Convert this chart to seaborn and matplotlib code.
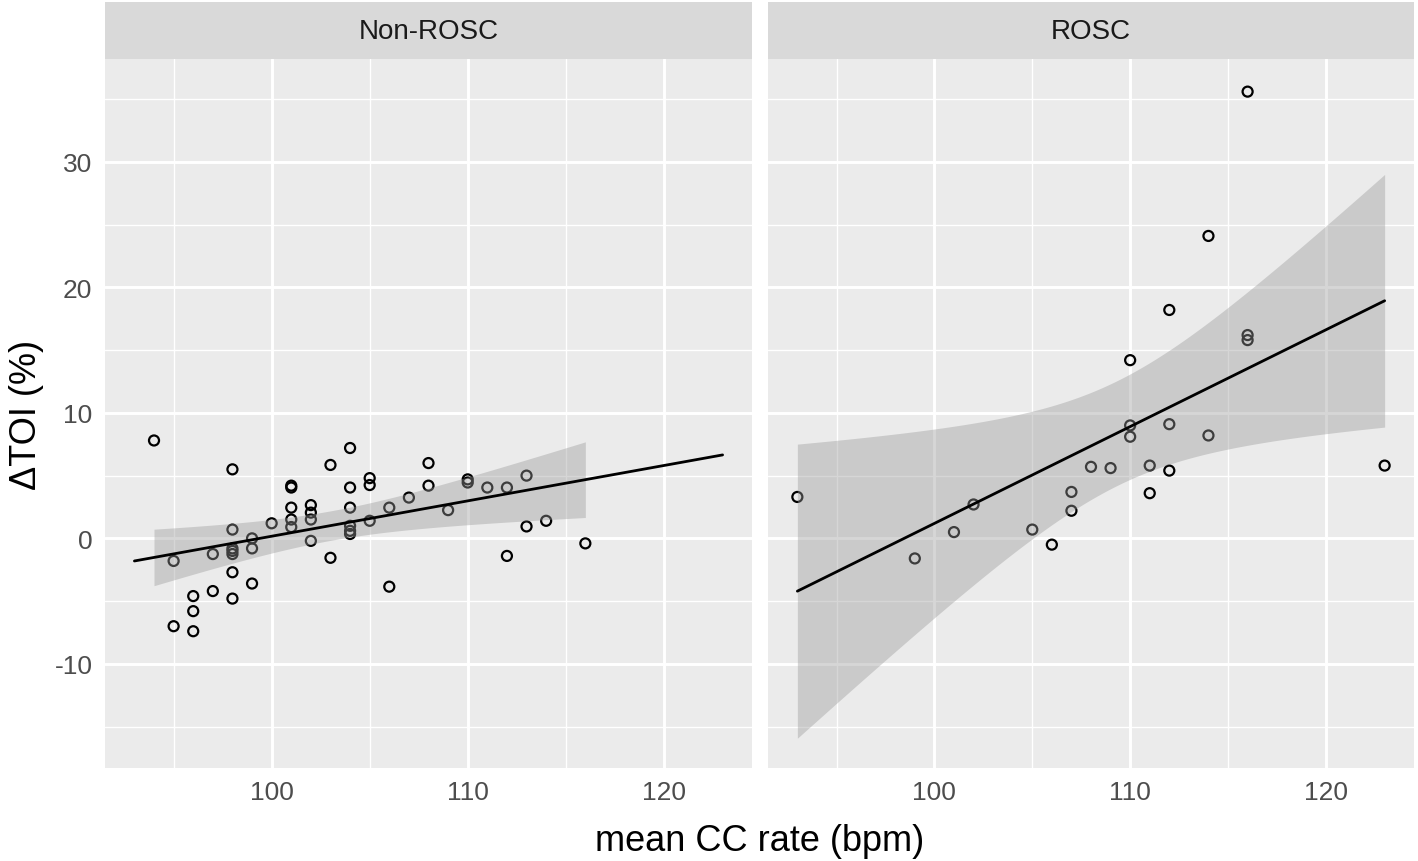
import numpy as np
import pandas as pd
import matplotlib
matplotlib.use("Agg")
import matplotlib.pyplot as plt
import seaborn as sns
from matplotlib.patches import Rectangle
from matplotlib.ticker import MultipleLocator, FixedLocator

# ---------------- data ----------------
groups = ["Non-ROSC", "ROSC"]

nonrosc_rate = [94, 95, 95, 96, 96, 96, 97, 97,
                98, 98, 98, 98, 98, 98, 98,
                99, 99, 99, 100,
                101, 101, 101, 101, 101,
                102, 102, 102, 102, 103, 103,
                104, 104, 104, 104, 104, 104,
                105, 105, 105, 106, 106, 107, 108, 108, 109,
                110, 110, 111, 112, 112, 113, 113, 114, 116]
nonrosc_dtoi = [7.8, -1.8, -7.0, -4.6, -5.8, -7.4, -1.25, -4.2,
                5.5, 0.7, -0.8, -1.0, -1.25, -2.7, -4.8,
                0.0, -0.8, -3.6, 1.2,
                4.2, 4.05, 2.45, 1.5, 0.9,
                2.65, 2.05, 1.5, -0.2, 5.85, -1.55,
                7.2, 4.05, 2.45, 1.0, 0.6, 0.35,
                4.8, 4.25, 1.4, 2.45, -3.85, 3.25, 6.0, 4.2, 2.25,
                4.7, 4.45, 4.05, 4.05, -1.4, 5.0, 0.95, 1.4, -0.4]

rosc_rate = [93, 99, 101, 102, 105, 106, 107, 107, 108, 109,
             110, 110, 110, 111, 111, 112, 112, 112,
             114, 114, 116, 116, 116, 123]
rosc_dtoi = [3.3, -1.6, 0.5, 2.7, 0.7, -0.5, 3.7, 2.2, 5.7, 5.6,
             14.2, 9.0, 8.1, 5.8, 3.6, 18.2, 9.1, 5.4,
             24.1, 8.2, 35.6, 16.2, 15.8, 5.8]

x_ticks = [100, 110, 120]
y_ticks = [-10, 0, 10, 20, 30]

df = pd.concat([
    pd.DataFrame({"group": groups[0], "rate": nonrosc_rate, "dtoi": nonrosc_dtoi}),
    pd.DataFrame({"group": groups[1], "rate": rosc_rate, "dtoi": rosc_dtoi}),
], ignore_index=True)

# ---------------- style ----------------
sns.set_theme(style="darkgrid")
plt.rcParams["font.family"] = ["Liberation Sans", "DejaVu Sans"]
plt.rcParams["axes.unicode_minus"] = False

PANEL_BG = "#EBEBEB"
STRIP_BG = "#D9D9D9"
CI_LEVEL_Z = 2.5758293  # two-sided 99 % normal quantile

x_all_min, x_all_max = df["rate"].min(), df["rate"].max()


def t_crit(dfree, z=CI_LEVEL_Z):
    return (z + (z**3 + z) / (4 * dfree)
            + (5 * z**5 + 16 * z**3 + 3 * z) / (96 * dfree**2)
            + (3 * z**7 + 19 * z**5 + 17 * z**3 - 15 * z) / (384 * dfree**3))


def draw_panel(data, **kws):
    ax = plt.gca()
    x = data["rate"].to_numpy(float)
    y = data["dtoi"].to_numpy(float)
    sns.scatterplot(x=x, y=y, ax=ax, marker="o", s=52,
                    facecolor="none", edgecolor="black", linewidth=1.6,
                    zorder=2)
    n = len(x)
    xm = x.mean()
    sxx = ((x - xm) ** 2).sum()
    b = ((x - xm) * (y - y.mean())).sum() / sxx
    a = y.mean() - b * xm
    resid = y - (a + b * x)
    s = np.sqrt((resid ** 2).sum() / (n - 2))
    tc = t_crit(n - 2)
    # ribbon over the group's data range
    xr = np.linspace(x.min(), x.max(), 200)
    se = s * np.sqrt(1 / n + (xr - xm) ** 2 / sxx)
    fit = a + b * xr
    ax.fill_between(xr, fit - tc * se, fit + tc * se, color="#999999",
                    alpha=0.4, linewidth=0, zorder=3)
    # line over the full x range
    xl = np.linspace(x_all_min, x_all_max, 100)
    ax.plot(xl, a + b * xl, color="black", linewidth=2.0, zorder=4)


g = sns.FacetGrid(df, col="group", col_order=groups, sharex=True, sharey=True,
                  height=6, aspect=1.0, despine=False)
g.map_dataframe(draw_panel)

fig = g.figure
fig.set_size_inches(14.18, 8.62)
fig.set_dpi(100)
fig.patch.set_facecolor("white")

W, H = 1418.0, 862.0
panel_top, panel_bot = 60.0, 769.0
positions = [(105.0, 752.0), (768.0, 1414.0)]
strip_top = 3.0

for ax, (l, r), name in zip(g.axes.flat, positions, groups):
    ax.set_position([l / W, 1 - panel_bot / H, (r - l) / W, (panel_bot - panel_top) / H])
    ax.set_facecolor(PANEL_BG)
    ax.set_xlim(91.5, 124.5)
    ax.set_ylim(-18.3, 38.2)
    ax.xaxis.set_major_locator(FixedLocator(x_ticks))
    ax.yaxis.set_major_locator(FixedLocator(y_ticks))
    ax.xaxis.set_minor_locator(MultipleLocator(5))
    ax.yaxis.set_minor_locator(FixedLocator([-15, -5, 5, 15, 25, 35]))
    ax.grid(which="major", color="white", linewidth=2.1)
    ax.grid(which="minor", color="white", linewidth=1.0)
    ax.set_axisbelow(True)
    for sp in ax.spines.values():
        sp.set_visible(False)
    ax.tick_params(axis="both", which="major", length=5, width=1.6,
                   color="#333333", labelcolor="#4D4D4D", labelsize=19, pad=4)
    ax.tick_params(axis="both", which="minor", length=0)
    ax.set_title("")
    ax.set_xlabel("")
    ax.set_ylabel("")
    h = (panel_top - strip_top) / (panel_bot - panel_top)
    ax.add_patch(Rectangle((0, 1), 1, h, transform=ax.transAxes, clip_on=False,
                           facecolor=STRIP_BG, edgecolor="none", zorder=5))
    ax.text(0.5, 1 + h / 2, name, transform=ax.transAxes, ha="center", va="center",
            fontsize=20, color="#1A1A1A", zorder=6)

g.axes.flat[1].tick_params(axis="y", which="both", left=False, labelleft=False)

fig.text(759.5 / W, 1 - 842 / H, "mean CC rate (bpm)", ha="center", va="center",
         fontsize=26, color="black")
fig.text(26 / W, 1 - 414.5 / H, "ΔTOI (%)", ha="center", va="center",
         rotation=90, fontsize=26, color="black")

fig.savefig("out.png", dpi=100, facecolor="white")
